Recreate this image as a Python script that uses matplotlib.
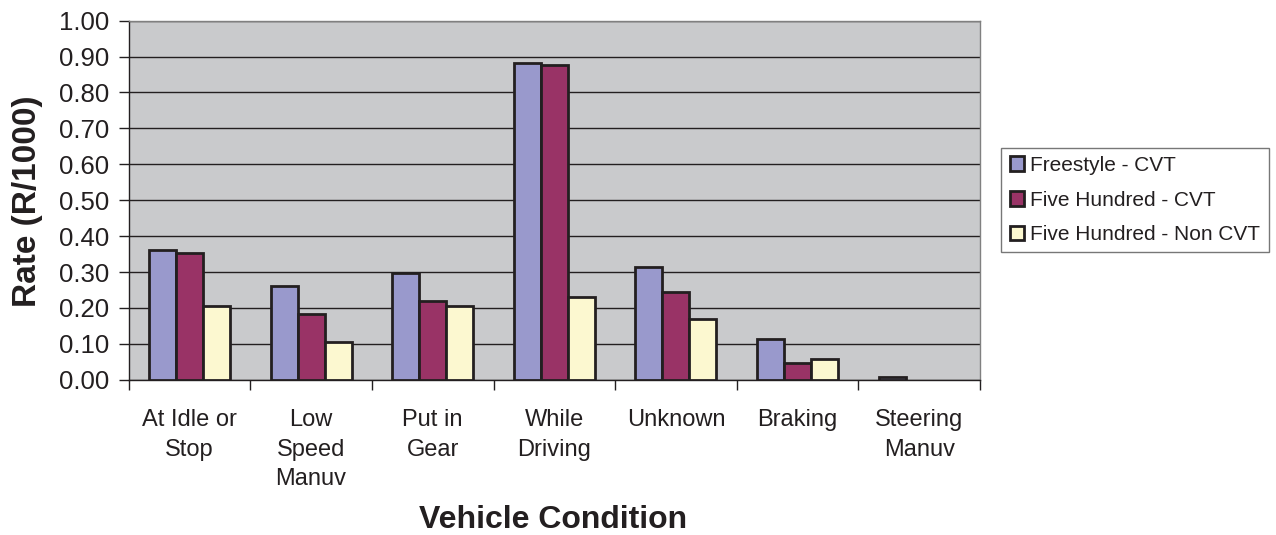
import matplotlib
matplotlib.use("Agg")
import matplotlib.pyplot as plt
import numpy as np

categories = ["At Idle or\nStop", "Low\nSpeed\nManuv", "Put in\nGear", "While\nDriving",
              "Unknown", "Braking", "Steering\nManuv"]
series_names = ["Freestyle - CVT", "Five Hundred - CVT", "Five Hundred - Non CVT"]
freestyle_cvt = [0.361, 0.261, 0.296, 0.881, 0.313, 0.113, 0.008]
five_hundred_cvt = [0.352, 0.182, 0.218, 0.876, 0.243, 0.047, 0.0]
five_hundred_non_cvt = [0.204, 0.105, 0.204, 0.230, 0.169, 0.058, 0.0]
y_ticks = [0.0, 0.1, 0.2, 0.3, 0.4, 0.5, 0.6, 0.7, 0.8, 0.9, 1.0]

colors = ["#9999cc", "#993366", "#fcf8d0"]
edge = "#231f20"

plt.rcParams['font.family'] = ['Liberation Sans', 'DejaVu Sans']

fig = plt.figure(figsize=(12.76, 5.35), dpi=100)
ax = fig.add_axes([128.7/1276, 1-379.7/535, (980-128.7)/1276, (379.7-20.7)/535])
ax.set_facecolor("#c9cacc")

x = np.arange(len(categories))
w = 0.222
for i, (vals, name, c) in enumerate(zip([freestyle_cvt, five_hundred_cvt, five_hundred_non_cvt],
                                         series_names, colors)):
    bars = ax.bar(x + (i - 1) * w, vals, width=w, color=c, edgecolor=edge, linewidth=2.0,
                  label=name, zorder=3)
    for b, v in zip(bars, vals):
        if v == 0:
            b.set_visible(False)

ax.set_xlim(-0.5, len(categories) - 0.5)
ax.set_ylim(0, 1.0)
ax.set_yticks(y_ticks)
ax.set_yticklabels([f"{v:.2f}" for v in y_ticks], fontsize=18.5, color="#231f20")
ax.yaxis.grid(True, color="#231f20", linewidth=1.0, zorder=1)
ax.set_axisbelow(True)

ax.set_xticks(np.arange(len(categories) + 1) - 0.5)
ax.set_xticklabels([])
ax.set_xticks(x, minor=True)
ax.set_xticklabels(categories, minor=True, fontsize=17, color="#231f20", linespacing=1.45,
                   va="top")
ax.tick_params(axis="x", which="minor", length=0, pad=21)
ax.tick_params(axis="x", which="major", length=7, width=1, color="#231f20", direction="out")
ax.tick_params(axis="y", length=7, width=1, color="#231f20", direction="out", pad=7)

for s in ["left", "bottom"]:
    ax.spines[s].set_color("#231f20")
    ax.spines[s].set_linewidth(1)
for s in ["top", "right"]:
    ax.spines[s].set_color("#808080")
    ax.spines[s].set_linewidth(1)

fig.text(553/1276, 1-520/535, "Vehicle Condition", ha="center", va="center",
         fontsize=23, fontweight="bold", color="#231f20")
fig.text(28/1276, 1-201/535, "Rate (R/1000)", ha="center", va="center", rotation=90,
         fontsize=24, fontweight="bold", color="#231f20")

leg = fig.legend(loc="center", bbox_to_anchor=(1135/1276, 1-200/535), fontsize=15,
                 frameon=True, fancybox=False, edgecolor="#555555", handlelength=0.7,
                 handleheight=0.7, handletextpad=0.3, labelspacing=0.75, borderpad=0.4,
                 borderaxespad=0)
leg.get_frame().set_linewidth(1.0)
for t in leg.get_texts():
    t.set_color("#231f20")

fig.savefig("out.png", dpi=100)
